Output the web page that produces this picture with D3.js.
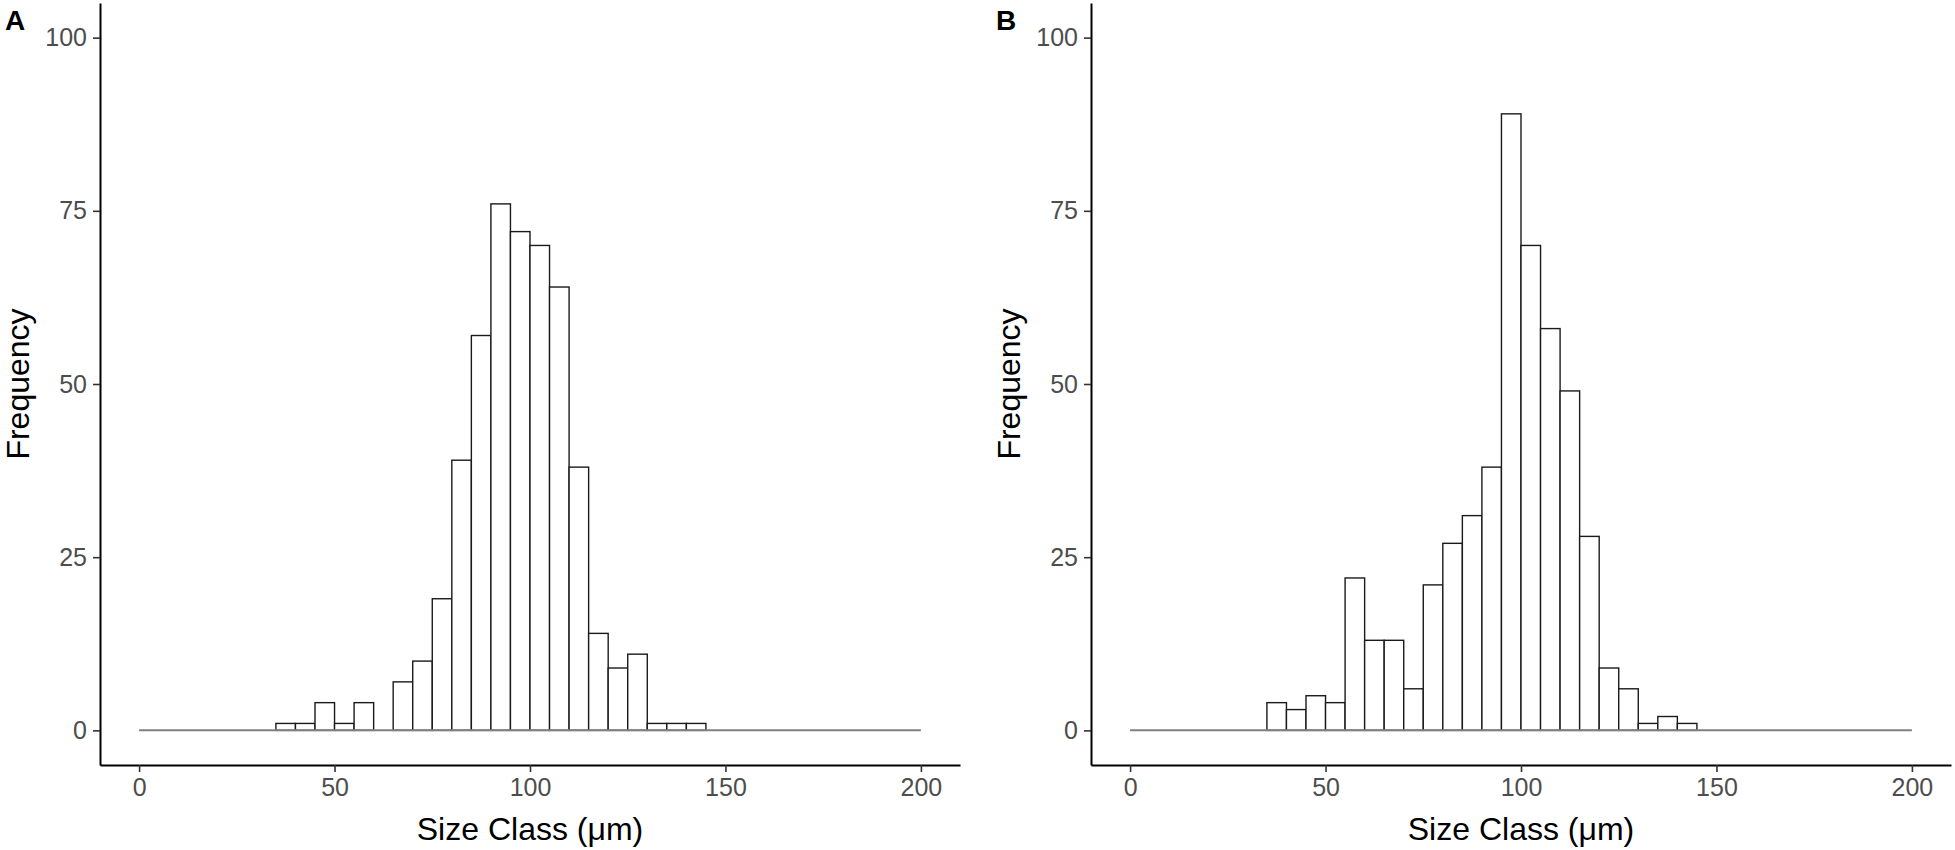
<!DOCTYPE html>
<html>
<head>
<meta charset="utf-8">
<script src="https://cdn.jsdelivr.net/npm/d3@7"></script>
<style>
  body { margin: 0; background: #fff; }
  svg { display: block; }
</style>
</head>
<body>
<svg id="chart"></svg>
<script>
// histogram data, bins are 5 µm wide
var binStarts = [35, 40, 45, 50, 55, 60, 65, 70, 75, 80, 85, 90, 95, 100, 105, 110, 115, 120, 125, 130, 135, 140];
var binWidth = 5;
var countsA = [1, 1, 4, 1, 4, 0, 7, 10, 19, 39, 57, 76, 72, 70, 64, 38, 14, 9, 11, 1, 1, 1];
var countsB = [4, 3, 5, 4, 22, 13, 13, 6, 21, 27, 31, 38, 89, 70, 58, 49, 28, 9, 6, 1, 2, 1];
var xTicks = [0, 50, 100, 150, 200];
var yTicks = [0, 25, 50, 75, 100];
var panels = [
    { tag: "A", counts: countsA },
    { tag: "B", counts: countsB }
];

var width = 1955, height = 850;
var svg = d3.select("#chart")
    .attr("width", width)
    .attr("height", height)
    .style("font-family", "'Liberation Sans', Arial, sans-serif");

// plot panel boxes
var panelLeft = [100, 1091];
var panelWidth = 860;
var plotTop = 3, plotBottom = 765;

var yScale = d3.scaleLinear()
    .domain([-5, 105])
    .range([plotBottom, plotTop]);

panels.forEach(function(p, i) {
    var left = panelLeft[i];
    var xScale = d3.scaleLinear()
        .domain([-10, 210])
        .range([left, left + panelWidth]);

    var g = svg.append("g");

    // bars
    g.selectAll("rect.bar")
        .data(p.counts.map(function(c, j) { return { x0: binStarts[j], n: c }; }))
        .enter().append("rect")
        .attr("class", "bar")
        .attr("x", function(d) { return xScale(d.x0); })
        .attr("width", function(d) { return xScale(d.x0 + binWidth) - xScale(d.x0); })
        .attr("y", function(d) { return yScale(d.n); })
        .attr("height", function(d) { return yScale(0) - yScale(d.n); })
        .attr("fill", "#fff")
        .attr("stroke", "#1a1a1a")
        .attr("stroke-width", 1.4);

    // zero line across the full size range
    g.append("line")
        .attr("x1", xScale(0))
        .attr("x2", xScale(200))
        .attr("y1", yScale(0))
        .attr("y2", yScale(0))
        .attr("stroke", "#808080")
        .attr("stroke-width", 2);

    // x axis
    var xAxis = g.append("g")
        .attr("transform", "translate(0," + plotBottom + ")")
        .call(d3.axisBottom(xScale)
            .tickValues(xTicks)
            .tickSize(7)
            .tickPadding(6)
            .tickSizeOuter(0));

    // y axis
    var yAxis = g.append("g")
        .attr("transform", "translate(" + left + ",0)")
        .call(d3.axisLeft(yScale)
            .tickValues(yTicks)
            .tickSize(7)
            .tickPadding(6)
            .tickSizeOuter(0));

    [xAxis, yAxis].forEach(function(ax) {
        ax.select(".domain").attr("stroke", "#000").attr("stroke-width", 2);
        ax.selectAll(".tick line").attr("stroke", "#333").attr("stroke-width", 1.6);
        ax.selectAll(".tick text")
            .attr("fill", "#4d4d4d")
            .style("font-size", "25px")
            .style("font-family", "'Liberation Sans', Arial, sans-serif");
    });

    // axis titles
    g.append("text")
        .attr("x", (xScale(0) + xScale(200)) / 2)
        .attr("y", 840)
        .attr("text-anchor", "middle")
        .style("font-size", "32px")
        .text("Size Class (μm)");

    g.append("text")
        .attr("transform", "translate(" + (left - 71) + "," + ((plotTop + plotBottom) / 2) + ") rotate(-90)")
        .attr("text-anchor", "middle")
        .style("font-size", "32px")
        .text("Frequency");

    // panel tag
    g.append("text")
        .attr("x", left - 95)
        .attr("y", 30)
        .style("font-size", "28px")
        .style("font-weight", "bold")
        .text(p.tag);
});
</script>
</body>
</html>
